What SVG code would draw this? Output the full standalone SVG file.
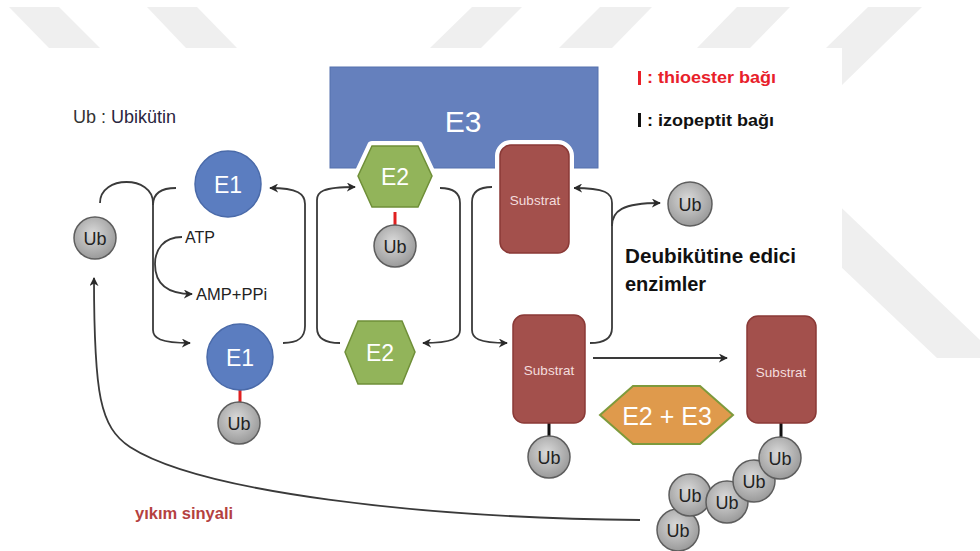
<svg xmlns="http://www.w3.org/2000/svg" width="980" height="551" viewBox="0 0 980 551">
<defs>
<style>
.bg{fill:#efefef}
.con{fill:none;stroke:#3a3a3a;stroke-width:1.8}
.ubc{fill:url(#ubg);stroke:#5e5e5e;stroke-width:1.5}
.ubt{font-family:"Liberation Sans",Arial,sans-serif;font-size:18px;fill:#222;text-anchor:middle;dominant-baseline:central}
.e1c{fill:#5b7dc0;stroke:#4a6aa9;stroke-width:1.5}
.wt{font-family:"Liberation Sans",Arial,sans-serif;fill:#fff;text-anchor:middle;dominant-baseline:central}
.e2{fill:#92b45a;stroke:#6f8f38;stroke-width:1.5}
.sub{fill:#a3504c;stroke:#8a3936;stroke-width:1.5}
.subt{font-family:"Liberation Sans",Arial,sans-serif;font-size:13.5px;fill:#f3dddd;text-anchor:middle;dominant-baseline:central}
.lbl{font-family:"Liberation Sans",Arial,sans-serif;fill:#222}
</style>
<radialGradient id="ubg" cx="45%" cy="40%" r="60%">
<stop offset="0" stop-color="#dadada"/>
<stop offset="1" stop-color="#9a9a9a"/>
</radialGradient>
<marker id="ah" viewBox="0 0 10 10" refX="9" refY="5" markerWidth="9" markerHeight="9" markerUnits="userSpaceOnUse" orient="auto">
<path d="M0,0 L10,5 L0,10 L3,5 z" fill="#2a2a2a"/>
</marker>
</defs>
<rect width="980" height="551" fill="#ffffff"/>
<g id="watermark">
<polygon class="bg" points="9,7 59,7 100,48 49,48"/>
<polygon class="bg" points="147,7 197,7 237,48 186,48"/>
<polygon class="bg" points="472,7 522,7 481,48 430,48"/>
<polygon class="bg" points="600,7 652,7 612,48 559,48"/>
<polygon class="bg" points="737,7 790,7 750,48 697,48"/>
<polygon class="bg" points="868,7 922,7 800,126 746,126"/>
<polygon class="bg" points="760,130 980,340 980,358 937,358 760,190"/>
<rect x="0" y="48" width="842" height="503" fill="#ffffff"/>
</g>

<g id="legend">
<text class="lbl" x="73" y="123" font-size="18"><tspan fill="#333">Ub : </tspan><tspan fill="#2a2540">Ubikütin</tspan></text>
<rect x="638" y="71" width="3" height="14" fill="#e8202a"/>
<text x="647" y="83" font-family="Liberation Sans,Arial,sans-serif" font-size="16" font-weight="bold" fill="#e8202a" textLength="129" lengthAdjust="spacingAndGlyphs">: thioester bağı</text>
<rect x="638" y="113" width="3" height="14" fill="#111"/>
<text x="647" y="126" font-family="Liberation Sans,Arial,sans-serif" font-size="16" font-weight="bold" fill="#111" textLength="127" lengthAdjust="spacingAndGlyphs">: izopeptit bağı</text>
</g>

<g id="E3">
<rect x="330" y="67" width="268" height="101" fill="#6580bd" stroke="#5470ad" stroke-width="1"/>
<text class="wt" x="463" y="121" font-size="30">E3</text>
</g>

<g id="connectors">
<path class="con" d="M100,203 C100,175 153,175 153,203"/>
<path class="con" d="M176,188 C162,188 153,193 153,205"/>
<path class="con" d="M153,200 V330 C153,338 160,343 190,343" marker-end="url(#ah)"/>
<path class="con" d="M182,237 C163,237 155,250 155,264 C155,282 165,294 192,294" marker-end="url(#ah)"/>
<path class="con" d="M283,343 C298,343 305,338 305,326 V204 C305,194 298,188 270,188" marker-end="url(#ah)"/>
<path class="con" d="M340,343 C325,343 317,338 317,328 V200 C317,192 322,187 355,187" marker-end="url(#ah)"/>
<path class="con" d="M440,188 C453,188 460,193 460,203 V330 C460,338 453,343 423,343" marker-end="url(#ah)"/>
<path class="con" d="M492,187 C478,187 472,192 472,202 V330 C472,338 478,343 507,343" marker-end="url(#ah)"/>
<path class="con" d="M590,343 C605,343 612,338 612,328 V203 C612,193 605,188 574,188" marker-end="url(#ah)"/>
<path class="con" d="M612,226 C612,211 622,203 660,203" marker-end="url(#ah)"/>
<path class="con" d="M593,358 H727" stroke-width="2.2" marker-end="url(#ah)"/>
<path class="con" d="M640,520 C420,518 200,492 130,447 C100,427 94,395 94,278" marker-end="url(#ah)"/>
</g>

<g id="ub-free-left">
<circle class="ubc" cx="95" cy="238" r="21"/>
<text class="ubt" x="95" y="239">Ub</text>
</g>

<g id="E1-top">
<circle class="e1c" cx="228" cy="184" r="33"/>
<text class="wt" x="228" y="185" font-size="23">E1</text>
</g>

<g id="ATP-label">
<text class="lbl" x="185" y="243" font-size="16">ATP</text>
<text class="lbl" x="196" y="300" font-size="16.5">AMP+PPi</text>
</g>

<g id="E1-ub">
<line x1="240" y1="389" x2="240" y2="403" stroke="#e02020" stroke-width="3"/>
<circle class="e1c" cx="240" cy="357" r="33"/>
<text class="wt" x="240" y="358" font-size="23">E1</text>
<circle class="ubc" cx="239" cy="423" r="21"/>
<text class="ubt" x="239" y="424">Ub</text>
</g>

<g id="E2-ub">
<line x1="395" y1="206" x2="395" y2="226" stroke="#e02020" stroke-width="3"/>
<polygon points="358,176 372,146 418,146 432,176 418,207 372,207" fill="#ffffff" stroke="#ffffff" stroke-width="10" stroke-linejoin="round"/>
<polygon class="e2" points="358,176 372,146 418,146 432,176 418,207 372,207"/>
<text class="wt" x="395" y="177" font-size="23">E2</text>
<circle class="ubc" cx="395" cy="246" r="21"/>
<text class="ubt" x="395" y="247">Ub</text>
</g>

<g id="E2-free">
<polygon class="e2" points="345,352 358,321 402,321 415,352 402,384 358,384"/>
<text class="wt" x="380" y="353" font-size="23">E2</text>
</g>

<g id="substrat-top">
<rect x="500" y="145" width="69" height="108" rx="11" fill="#ffffff" stroke="#ffffff" stroke-width="10"/>
<rect class="sub" x="500" y="145" width="69" height="108" rx="11"/>
<text class="subt" x="535" y="200">Substrat</text>
</g>

<g id="ub-released">
<circle class="ubc" cx="690" cy="204" r="22"/>
<text class="ubt" x="690" y="205">Ub</text>
</g>

<g id="deub-label">
<text x="625" y="263" font-family="Liberation Sans,Arial,sans-serif" font-size="20" font-weight="bold" fill="#111" textLength="171" lengthAdjust="spacingAndGlyphs">Deubikütine edici</text>
<text x="625" y="291" font-family="Liberation Sans,Arial,sans-serif" font-size="20" font-weight="bold" fill="#111">enzimler</text>
</g>

<g id="substrat-mid">
<line x1="549" y1="422" x2="549" y2="437" stroke="#111" stroke-width="3"/>
<rect class="sub" x="513" y="315" width="72" height="108" rx="11"/>
<text class="subt" x="549" y="370">Substrat</text>
<circle class="ubc" cx="549" cy="457" r="21"/>
<text class="ubt" x="549" y="458">Ub</text>
</g>

<g id="E2E3">
<polygon points="600,415 633,386 700,386 733,415 700,444 633,444" fill="#df9a4c" stroke="#7e9a3c" stroke-width="2"/>
<text class="wt" x="667" y="416" font-size="25">E2 + E3</text>
</g>

<g id="substrat-polyub">
<line x1="781" y1="422" x2="781" y2="442" stroke="#111" stroke-width="3"/>
<rect class="sub" x="747" y="316" width="69" height="107" rx="11"/>
<text class="subt" x="781" y="372">Substrat</text>
<circle class="ubc" cx="678" cy="530" r="21"/>
<text class="ubt" x="678" y="531">Ub</text>
<circle class="ubc" cx="690" cy="495" r="21"/>
<text class="ubt" x="690" y="496">Ub</text>
<circle class="ubc" cx="727" cy="502" r="21"/>
<text class="ubt" x="727" y="503">Ub</text>
<circle class="ubc" cx="754" cy="481" r="21"/>
<text class="ubt" x="754" y="482">Ub</text>
<circle class="ubc" cx="780" cy="458" r="21"/>
<text class="ubt" x="780" y="459">Ub</text>
</g>

<g id="signal-label">
<text x="135" y="519" font-family="Liberation Sans,Arial,sans-serif" font-size="16.5" font-weight="bold" fill="#b5413f">yıkım sinyali</text>
</g>
</svg>
